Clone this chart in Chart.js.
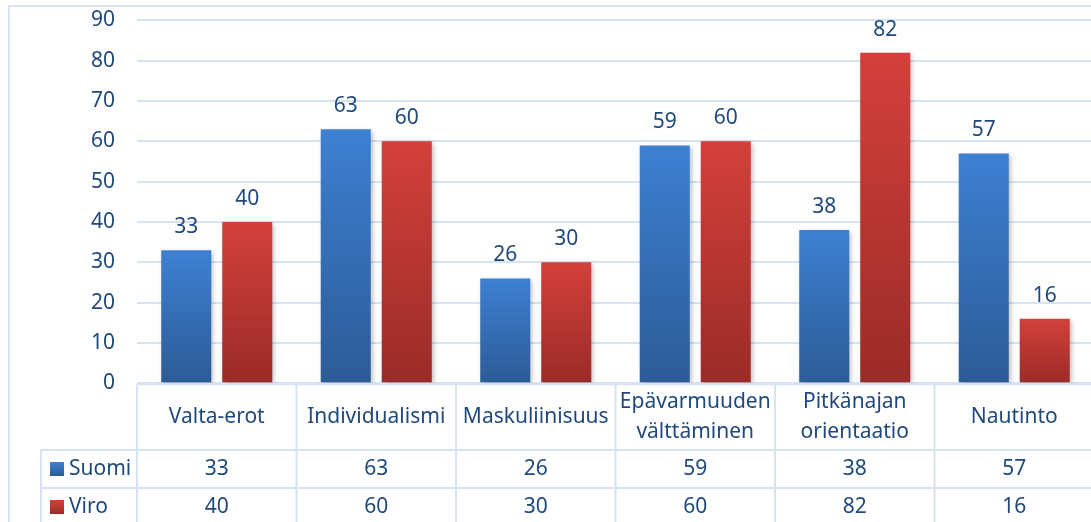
<!DOCTYPE html>
<html lang="fi">
<head>
  <meta charset="UTF-8">
  <style>
    html, body {
      margin: 0;
      padding: 0;
      background: #fff;
      overflow: hidden;
    }
    #wrap {
      width: 1100px;
      height: 522px;
    }
  </style>
</head>
<body>
  <div id="wrap">
    <canvas id="myChart" width="1100" height="522"></canvas>
  </div>

  <script src="https://cdn.jsdelivr.net/npm/chart.js"></script>
  <script>
    // Data
    const categories = [
      ['Valta-erot'],
      ['Individualismi'],
      ['Maskuliinisuus'],
      ['Epävarmuuden', 'välttäminen'],
      ['Pitkänajan', 'orientaatio'],
      ['Nautinto']
    ];
    const seriesNames = ['Suomi', 'Viro'];
    const suomi = [33, 63, 26, 59, 38, 57];
    const viro = [40, 60, 30, 60, 82, 16];
    const yMin = 0;
    const yMax = 90;
    const yStep = 10;

    const textColor = '#1f497d';
    const lineColor = '#d7e3f3';
    const font = "'Noto Sans', 'DejaVu Sans', sans-serif";
    const fontSize = 21;

    // gradient stops for the two series (top, bottom)
    const seriesColors = [
      ['#3d80d2', '#2c5b96'],
      ['#d4403b', '#9a2b28']
    ];

    function barGradient(ctx, top, bottom, colors) {
      const g = ctx.createLinearGradient(0, top, 0, bottom);
      g.addColorStop(0, colors[0]);
      g.addColorStop(1, colors[1]);
      return g;
    }

    function barFill(idx) {
      return function(context) {
        const chart = context.chart;
        const y = chart.scales.y;
        if (!y || context.raw === undefined) return seriesColors[idx][1];
        const top = y.getPixelForValue(context.raw);
        const bottom = y.getPixelForValue(0);
        if (!isFinite(top) || !isFinite(bottom)) return seriesColors[idx][1];
        return barGradient(chart.ctx, top, bottom, seriesColors[idx]);
      };
    }

    // soft shadow behind bars
    const shadowPlugin = {
      id: 'barShadow',
      beforeDatasetsDraw(chart) {
        const ctx = chart.ctx;
        ctx.save();
        ctx.shadowColor = 'rgba(0,0,0,0.28)';
        ctx.shadowBlur = 5;
        ctx.shadowOffsetX = 2;
        ctx.shadowOffsetY = 2;
      },
      afterDatasetsDraw(chart) {
        chart.ctx.restore();
      }
    };

    // value labels above each bar
    const valueLabels = {
      id: 'valueLabels',
      afterDatasetsDraw(chart) {
        const ctx = chart.ctx;
        ctx.save();
        ctx.font = fontSize + 'px ' + font;
        ctx.fillStyle = textColor;
        ctx.textAlign = 'center';
        ctx.textBaseline = 'alphabetic';
        chart.data.datasets.forEach((ds, i) => {
          const meta = chart.getDatasetMeta(i);
          meta.data.forEach((bar, j) => {
            ctx.fillText(String(ds.data[j]), bar.x, bar.y - 17);
          });
        });
        ctx.restore();
      }
    };

    // outer frame and the data table under the plot
    const dataTable = {
      id: 'dataTable',
      afterDraw(chart) {
        const ctx = chart.ctx;
        const x = chart.scales.x;
        const area = chart.chartArea;
        const n = categories.length;
        const colW = (area.right - area.left) / n;
        const tableTop = area.bottom + 1;
        const headBottom = 450;
        const rowH = 38;
        const tableBottom = headBottom + rowH * seriesNames.length;
        const legendLeft = 41;
        const farRight = chart.width + 10;

        ctx.save();
        ctx.strokeStyle = lineColor;
        ctx.lineWidth = 2;

        // outer chart frame
        ctx.beginPath();
        ctx.moveTo(9, chart.height + 10);
        ctx.lineTo(9, 6);
        ctx.lineTo(farRight, 6);
        ctx.stroke();

        // horizontal rules
        ctx.beginPath();
        ctx.moveTo(area.left, tableTop);
        ctx.lineTo(farRight, tableTop);
        for (let r = 0; r <= seriesNames.length; r++) {
          const yy = headBottom + r * rowH;
          ctx.moveTo(legendLeft, yy);
          ctx.lineTo(farRight, yy);
        }
        // vertical rules
        ctx.moveTo(legendLeft, headBottom);
        ctx.lineTo(legendLeft, tableBottom);
        for (let c = 0; c <= n; c++) {
          const xx = area.left + c * colW;
          ctx.moveTo(xx, tableTop);
          ctx.lineTo(xx, tableBottom);
        }
        ctx.stroke();

        ctx.font = fontSize + 'px ' + font;
        ctx.fillStyle = textColor;
        ctx.textAlign = 'center';
        ctx.textBaseline = 'middle';

        // category headers
        const headMid = (tableTop + headBottom) / 2;
        const lh = 30;
        categories.forEach((lines, i) => {
          const cx = x.getPixelForValue(i);
          const start = headMid - (lines.length - 1) * lh / 2;
          lines.forEach((t, k) => ctx.fillText(t, cx, start + k * lh));
        });

        // series rows
        const series = [suomi, viro];
        series.forEach((vals, r) => {
          const cy = headBottom + r * rowH + rowH / 2;
          vals.forEach((v, i) => {
            ctx.fillText(String(v), x.getPixelForValue(i), cy);
          });
          // legend key
          const sq = 14;
          ctx.fillStyle = barGradient(ctx, cy - sq / 2, cy + sq / 2, seriesColors[r]);
          ctx.fillRect(50, cy - sq / 2, sq, sq);
          ctx.fillStyle = textColor;
          ctx.textAlign = 'left';
          ctx.fillText(seriesNames[r], 69, cy);
          ctx.textAlign = 'center';
        });

        ctx.restore();
      }
    };

    const ctx = document.getElementById('myChart').getContext('2d');
    new Chart(ctx, {
      type: 'bar',
      data: {
        labels: categories.map(l => l.join(' ')),
        datasets: [
          {
            label: seriesNames[0],
            data: suomi,
            backgroundColor: barFill(0),
            categoryPercentage: 0.765,
            barPercentage: 0.82
          },
          {
            label: seriesNames[1],
            data: viro,
            backgroundColor: barFill(1),
            categoryPercentage: 0.765,
            barPercentage: 0.82
          }
        ]
      },
      options: {
        responsive: false,
        animation: false,
        devicePixelRatio: 1,
        layout: {
          padding: { left: 0, right: 6, top: 20.4, bottom: 138.7 }
        },
        scales: {
          x: {
            display: false
          },
          y: {
            min: yMin,
            max: yMax,
            border: { display: false },
            grid: {
              color: lineColor,
              lineWidth: 2,
              drawTicks: false
            },
            ticks: {
              stepSize: yStep,
              padding: 22,
              color: textColor,
              font: { family: font, size: fontSize }
            },
            afterFit(scale) {
              scale.width = 137;
              scale.paddingTop = 0;
              scale.paddingBottom = 0;
            }
          }
        },
        plugins: {
          legend: { display: false },
          tooltip: { enabled: false }
        }
      },
      plugins: [shadowPlugin, valueLabels, dataTable]
    });
  </script>
</body>
</html>
